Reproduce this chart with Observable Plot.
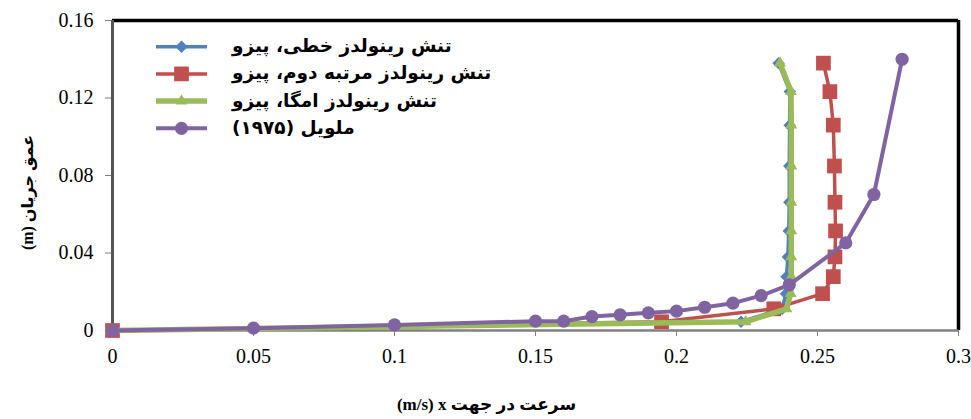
<!DOCTYPE html>
<html>
<head>
<meta charset="utf-8">
<script src="https://cdn.jsdelivr.net/npm/d3@7"></script>
<script src="https://cdn.jsdelivr.net/npm/@observablehq/plot@0.6"></script>
<style>
  html, body { margin: 0; padding: 0; background: #fff; }
  #chart { position: relative; width: 971px; height: 419px; }
</style>
</head>
<body>
<div id="chart"></div>
<script>
// Velocity profiles: depth (m) against streamwise velocity (m/s)
const depths = [0, 0.0045, 0.0112, 0.019, 0.0278, 0.038, 0.0514, 0.0662, 0.0849, 0.106, 0.1233, 0.138];
const linearSpeed = [0, 0.2229, 0.2375, 0.2388, 0.2390, 0.2395, 0.2398, 0.2400, 0.2400, 0.2401, 0.2402, 0.2362];
const secondOrderSpeed = [0, 0.1947, 0.2345, 0.2518, 0.2556, 0.2562, 0.2564, 0.2562, 0.2560, 0.2556, 0.2544, 0.2521];
const omegaSpeed = [0, 0.2245, 0.2390, 0.2405, 0.2407, 0.2407, 0.2407, 0.2407, 0.2407, 0.2407, 0.2406, 0.2367];

const melvilleSpeed = [0, 0.05, 0.1, 0.15, 0.16, 0.17, 0.18, 0.19, 0.2, 0.21, 0.22, 0.23, 0.24, 0.26, 0.27, 0.28];
const melvilleDepth = [0, 0.0012, 0.0029, 0.0048, 0.0048, 0.0072, 0.0081, 0.0091, 0.010, 0.012, 0.0141, 0.018, 0.0236, 0.0452, 0.0702, 0.140];

const seriesNames = [
  "تنش رینولدز خطی، پیزو",
  "تنش رینولدز مرتبه دوم، پیزو",
  "تنش رینولدز امگا، پیزو",
  "ملویل (۱۹۷۵)"
];
const seriesColors = ["#4F81BD", "#C0504D", "#9BBB59", "#8064A2"];

const xTicks = [0, 0.05, 0.1, 0.15, 0.2, 0.25, 0.3];
const yTicks = [0, 0.04, 0.08, 0.12, 0.16];
const xTitle = "(m/s) x سرعت در جهت";
const yTitle = "(m) عمق جریان";

const pairs = (xs, ys) => xs.map((v, i) => ({speed: v, depth: ys[i]}));
const linear = pairs(linearSpeed, depths);
const second = pairs(secondOrderSpeed, depths);
const omega = pairs(omegaSpeed, depths);
const melville = pairs(melvilleSpeed, melvilleDepth);

const persianFont = "'DejaVu Sans', sans-serif";

const chart = Plot.plot({
  width: 971,
  height: 419,
  marginLeft: 112,
  marginRight: 13,
  marginTop: 20,
  marginBottom: 89,
  x: {domain: [0, 0.3]},
  y: {domain: [0, 0.16]},
  style: {fontFamily: "'Liberation Serif', serif", fontSize: "20px", color: "#000", background: "#fff"},
  marks: [
    Plot.axisX({ticks: xTicks, tickFormat: d => String(d), tickSize: 6, tickPadding: 12, stroke: "#808080", label: null}),
    Plot.axisY({ticks: yTicks, tickFormat: d => String(d), tickSize: 7, tickPadding: 12, stroke: "#808080", label: null}),
    // plot area border
    Plot.ruleY([0.16], {stroke: "#000", strokeWidth: 3.5}),
    Plot.ruleX([0.3], {stroke: "#000", strokeWidth: 3.5}),
    Plot.ruleX([0], {stroke: "#555", strokeWidth: 3}),
    Plot.ruleY([0], {stroke: "#808080", strokeWidth: 2.5}),
    // series
    Plot.line(linear, {x: "speed", y: "depth", stroke: seriesColors[0], strokeWidth: 3.5}),
    Plot.dot(linear, {x: "speed", y: "depth", symbol: "diamond2", r: 5.6, fill: seriesColors[0], stroke: null}),
    Plot.line(second, {x: "speed", y: "depth", stroke: seriesColors[1], strokeWidth: 3.5}),
    Plot.dot(second, {x: "speed", y: "depth", symbol: "square", r: 8.3, fill: seriesColors[1], stroke: null}),
    Plot.line(omega, {x: "speed", y: "depth", stroke: seriesColors[2], strokeWidth: 5.5}),
    Plot.dot(omega, {x: "speed", y: "depth", symbol: "triangle", r: 4.4, fill: seriesColors[2], stroke: null}),
    Plot.line(melville, {x: "speed", y: "depth", stroke: seriesColors[3], strokeWidth: 4}),
    Plot.dot(melville, {x: "speed", y: "depth", symbol: "circle", r: 6.6, fill: seriesColors[3], stroke: null}),
    // axis titles
    Plot.text([xTitle], {frameAnchor: "bottom", dx: -49, dy: 79, text: d => d, fontWeight: "bold", fontSize: 17, fontFamily: "'Liberation Serif', " + persianFont}),
    Plot.text([yTitle], {frameAnchor: "left", textAnchor: "middle", dx: -85, dy: 17, rotate: -90, text: d => d, fontWeight: "bold", fontSize: 16, fontFamily: "'Liberation Serif', " + persianFont})
  ]
});

document.getElementById("chart").appendChild(chart);

// legend inside the plot area, top-left
const svg = d3.select(chart);
const legend = svg.append("g").attr("class", "legend");
const symbols = [d3.symbolDiamond2, d3.symbolSquare, d3.symbolTriangle, d3.symbolCircle];
const symbolR = [5.6, 8.3, 4.4, 6.6];
const lineW = [3.5, 3.5, 5.5, 4];
const textLeft = 232;
seriesNames.forEach((name, i) => {
  const cy = 46.7 + i * 27.2;
  const row = legend.append("g").attr("transform", `translate(0,${cy})`);
  row.append("line").attr("x1", 156).attr("x2", 207).attr("y1", 0).attr("y2", 0)
    .attr("stroke", seriesColors[i]).attr("stroke-width", lineW[i]);
  row.append("path").attr("transform", "translate(181.5,0)")
    .attr("d", d3.symbol(symbols[i], Math.PI * symbolR[i] * symbolR[i])())
    .attr("fill", seriesColors[i]);
  const label = row.append("text").attr("y", 0).attr("dy", "0.3em")
    .attr("direction", "rtl").attr("text-anchor", "middle")
    .attr("font-family", persianFont).attr("font-weight", "bold").attr("font-size", 18.5)
    .attr("fill", "#000")
    .text(name);
  // left edge of each label sits at the same x
  const w = label.node().getComputedTextLength();
  label.attr("x", textLeft + w / 2);
});
</script>
</body>
</html>
